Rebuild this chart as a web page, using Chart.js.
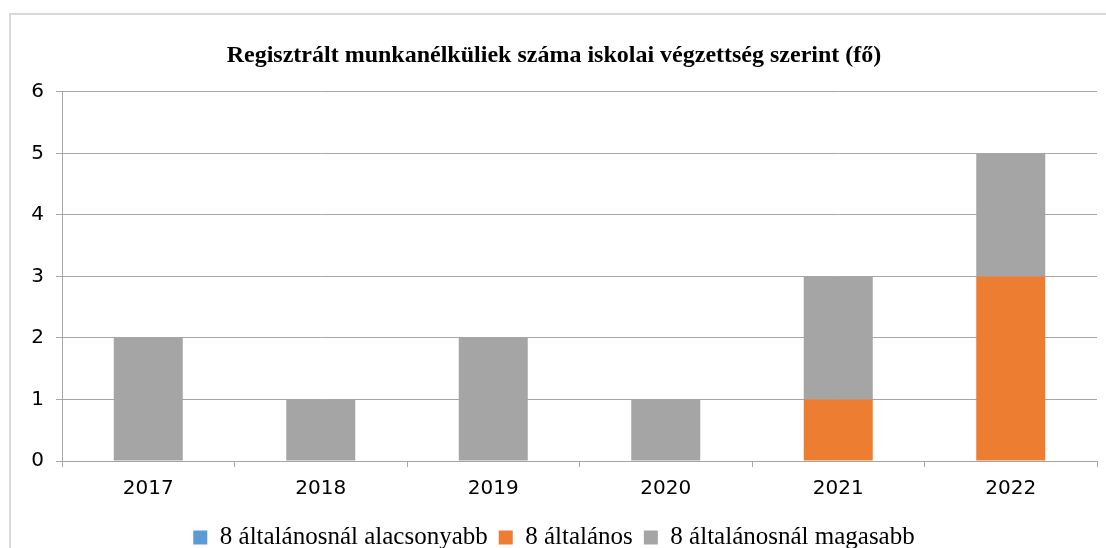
<!DOCTYPE html>
<html>
<head>
<meta charset="utf-8">
<script src="https://cdn.jsdelivr.net/npm/chart.js@4/dist/chart.umd.min.js"></script>
<style>
  body { margin: 0; background: #fff; overflow: hidden; }
  #wrap { position: absolute; left: 9px; top: 13px; width: 1110px; height: 545px; border: 2px solid #d9d9d9; }
</style>
</head>
<body>
<div id="wrap"><canvas id="myChart"></canvas></div>
<script>
var years = ["2017", "2018", "2019", "2020", "2021", "2022"];
var seriesNames = ["8 általánosnál alacsonyabb", "8 általános", "8 általánosnál magasabb"];
var alacsonyabb = [0, 0, 0, 0, 0, 0];
var altalanos = [0, 0, 0, 0, 1, 3];
var magasabb = [2, 1, 2, 1, 2, 2];
var yTicks = [0, 1, 2, 3, 4, 5, 6];
var chartTitle = "Regisztrált munkanélküliek száma iskolai végzettség szerint (fő)";

var cx = document.getElementById('myChart');
var myChart = new Chart(cx, {
  type: 'bar',
  data: {
    labels: years,
    datasets: [
      { label: seriesNames[0], data: alacsonyabb, backgroundColor: "#5B9BD5" },
      { label: seriesNames[1], data: altalanos, backgroundColor: "#ED7D31" },
      { label: seriesNames[2], data: magasabb, backgroundColor: "#A5A5A5" }
    ]
  },
  options: {
    responsive: true,
    maintainAspectRatio: false,
    animation: false,
    layout: { padding: { left: 0, right: 24, top: 0, bottom: 0 } },
    datasets: { bar: { categoryPercentage: 1, barPercentage: 0.4 } },
    plugins: {
      title: {
        display: true,
        text: chartTitle,
        color: "#000",
        font: { family: "'Liberation Serif', serif", size: 24, weight: 'bold' },
        padding: { top: 26, bottom: 22 }
      },
      legend: {
        position: 'bottom',
        labels: {
          color: "#000",
          font: { family: "'Liberation Serif', serif", size: 25 },
          boxWidth: 14,
          boxHeight: 14,
          padding: 11
        }
      },
      tooltip: { enabled: false }
    },
    scales: {
      x: {
        stacked: true,
        grid: { drawOnChartArea: false, drawTicks: true, tickLength: 6, color: "#a6a6a6" },
        border: { color: "#a6a6a6" },
        ticks: { color: "#000", padding: 10, font: { family: "'DejaVu Sans', sans-serif", size: 20 } },
        afterFit: function(s) { s.height = 53; }
      },
      y: {
        stacked: true,
        min: 0,
        max: 6,
        afterBuildTicks: function(s) { s.ticks = yTicks.map(function(v) { return { value: v }; }); },
        grid: { color: "#a6a6a6", tickLength: 6 },
        border: { color: "#a6a6a6" },
        ticks: { color: "#000", padding: 12, font: { family: "'DejaVu Sans', sans-serif", size: 20 } },
        afterFit: function(s) { s.width = 51; }
      }
    }
  }
});
</script>
</body>
</html>
